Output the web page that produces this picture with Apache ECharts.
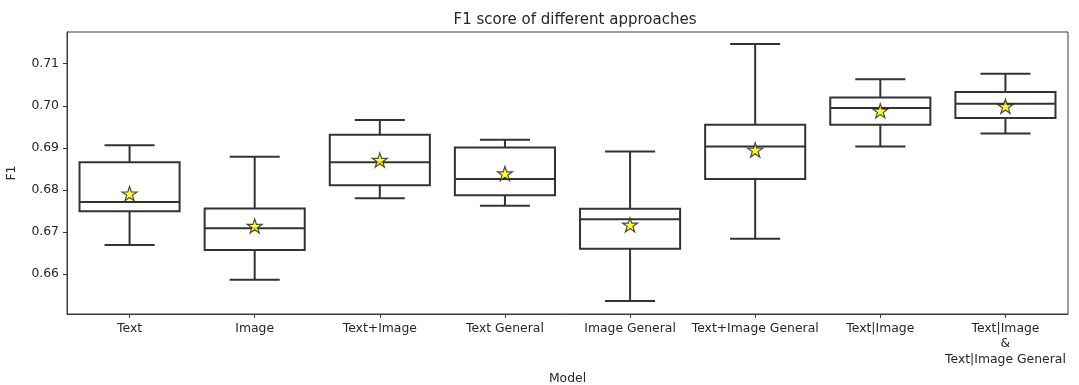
<!DOCTYPE html>
<html>
<head>
<meta charset="utf-8">
<script src="https://cdn.jsdelivr.net/npm/echarts@6/dist/echarts.min.js"></script>
<style>
  html, body { margin: 0; padding: 0; background: #fff; }
  #chart { width: 1079px; height: 385px; }
</style>
</head>
<body>
<div id="chart"></div>
<script>
// Model names on the x axis
const categories = [
  'Text', 'Image', 'Text+Image', 'Text General', 'Image General',
  'Text+Image General', 'Text|Image', 'Text|Image\n&\nText|Image General'
];
// Box statistics per model
const whiskerLow  = [0.6669, 0.6586, 0.6780, 0.6762, 0.6536, 0.6684, 0.6903, 0.6934];
const quartile1   = [0.6749, 0.6657, 0.6811, 0.6787, 0.6660, 0.6826, 0.6955, 0.6971];
const medians     = [0.6771, 0.6709, 0.6866, 0.6826, 0.6730, 0.6903, 0.6995, 0.7005];
const quartile3   = [0.6866, 0.6756, 0.6931, 0.6901, 0.6755, 0.6955, 0.7020, 0.7033];
const whiskerHigh = [0.6906, 0.6879, 0.6966, 0.6919, 0.6891, 0.7147, 0.7063, 0.7076];
// Mean F1 per model (star markers)
const means       = [0.6791, 0.6714, 0.6871, 0.6839, 0.6717, 0.6895, 0.6988, 0.6999];
// Y-axis tick labels
const yTicks = [0.66, 0.67, 0.68, 0.69, 0.70, 0.71];

const boxData = categories.map((c, i) =>
  [i, whiskerLow[i], quartile1[i], medians[i], quartile3[i], whiskerHigh[i]]);
const meanData = categories.map((c, i) => [i, means[i]]);

const lineColor = '#333333';
const textColor = '#262626';
const font = 'DejaVu Sans';

const starPath = 'path://M50 0 L61.23 34.55 L97.55 34.55 L68.17 55.9 L79.39 90.45 L50 69.1 L20.61 90.45 L31.83 55.9 L2.45 34.55 L38.77 34.55 Z';

function renderBox(params, api) {
  const x = api.value(0);
  const pLow = api.coord([x, api.value(1)]);
  const pQ1 = api.coord([x, api.value(2)]);
  const pMed = api.coord([x, api.value(3)]);
  const pQ3 = api.coord([x, api.value(4)]);
  const pHigh = api.coord([x, api.value(5)]);
  const bw = api.size([1, 0])[0] * 0.8;
  const half = bw / 2;
  const cap = bw / 4;
  const cx = pMed[0];
  const style = { stroke: lineColor, lineWidth: 2, fill: null };
  return {
    type: 'group',
    children: [
      { type: 'line', shape: { x1: cx, y1: pLow[1], x2: cx, y2: pQ1[1] }, style },
      { type: 'line', shape: { x1: cx, y1: pQ3[1], x2: cx, y2: pHigh[1] }, style },
      { type: 'line', shape: { x1: cx - cap, y1: pLow[1], x2: cx + cap, y2: pLow[1] }, style },
      { type: 'line', shape: { x1: cx - cap, y1: pHigh[1], x2: cx + cap, y2: pHigh[1] }, style },
      { type: 'rect', shape: { x: cx - half, y: pQ3[1], width: bw, height: pQ1[1] - pQ3[1] },
        style: { stroke: lineColor, lineWidth: 2, fill: '#ffffff' } },
      { type: 'line', shape: { x1: cx - half, y1: pMed[1], x2: cx + half, y2: pMed[1] }, style }
    ]
  };
}

const chart = echarts.init(document.getElementById('chart'), null, { renderer: 'canvas' });
chart.setOption({
  backgroundColor: '#ffffff',
  animation: false,
  title: {
    text: 'F1 score of different approaches',
    left: 570, top: 8, textAlign: 'center',
    textStyle: { fontFamily: font, fontSize: 15, fontWeight: 'normal', color: textColor }
  },
  grid: {
    left: 67, right: 11, top: 32, bottom: 71,
    outerBoundsMode: 'none',
    containLabel: false,
    show: true, borderColor: '#3a3a3a', borderWidth: 1, backgroundColor: 'transparent'
  },
  xAxis: {
    type: 'category',
    data: categories,
    boundaryGap: true,
    name: 'Model',
    nameLocation: 'middle',
    nameGap: 57,
    nameTextStyle: { fontFamily: font, fontSize: 12.4, color: textColor },
    axisLine: { show: true, lineStyle: { color: '#3a3a3a', width: 1 } },
    axisTick: { show: true, alignWithLabel: true, length: 4, lineStyle: { color: '#3a3a3a' } },
    axisLabel: {
      interval: 0, margin: 7, fontFamily: font, fontSize: 12.4, color: textColor,
      lineHeight: 15.5, align: 'center'
    },
    splitLine: { show: false }
  },
  yAxis: {
    type: 'value',
    min: 0.65048, max: 0.71755,
    name: 'F1',
    nameLocation: 'middle',
    nameGap: 49,
    nameRotate: 90,
    nameTextStyle: { fontFamily: font, fontSize: 12.4, color: textColor },
    axisLine: { show: true, lineStyle: { color: '#3a3a3a', width: 1 } },
    axisTick: { show: true, length: 4, customValues: yTicks, lineStyle: { color: '#3a3a3a' } },
    axisLabel: {
      customValues: yTicks, margin: 8, fontFamily: font, fontSize: 12.4, color: textColor,
      formatter: v => v.toFixed(2)
    },
    splitLine: { show: false }
  },
  series: [
    {
      type: 'custom',
      renderItem: renderBox,
      data: boxData,
      encode: { x: 0, y: [1, 2, 3, 4, 5] },
      z: 2
    },
    {
      type: 'scatter',
      data: meanData,
      symbol: starPath,
      symbolKeepAspect: true,
      symbolSize: 15,
      itemStyle: { color: '#ffff00', borderColor: '#222222', borderWidth: 1.2 },
      z: 3
    }
  ]
});
</script>
</body>
</html>
